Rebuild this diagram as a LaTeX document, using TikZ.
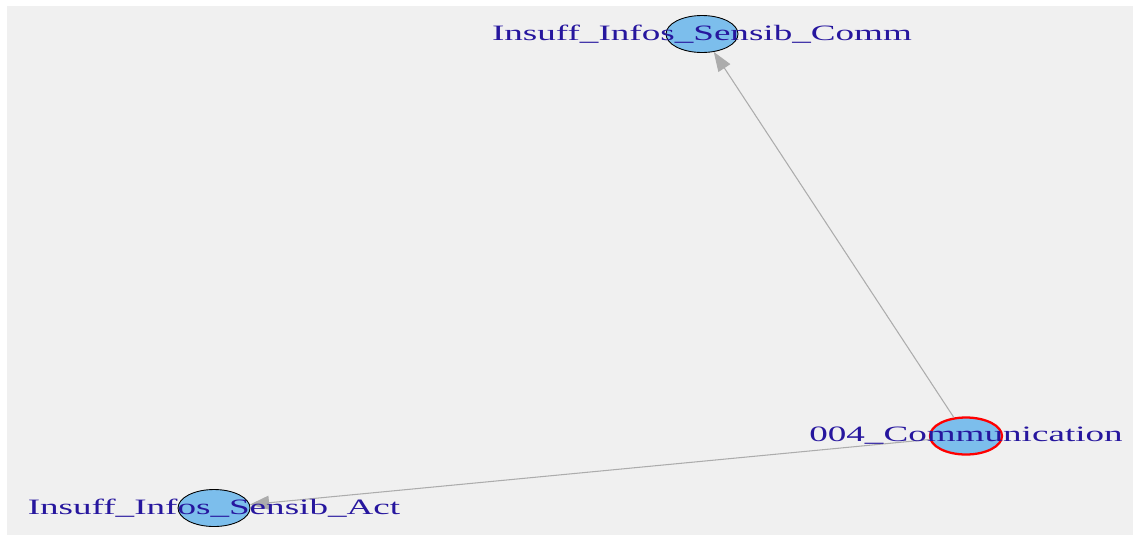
\documentclass[tikz,border=0pt]{standalone}
\usepackage{fontspec}
\usepackage{xcolor}
\usepackage{tikz}
\usetikzlibrary{shapes.geometric, arrows.meta, positioning}

\newfontfamily\netfont[FakeStretch=1.69]{Liberation Serif}
\definecolor{panelgray}{RGB}{240,240,240}
\definecolor{vertexblue}{RGB}{124,190,236}
\definecolor{labelblue}{RGB}{38,22,158}
\definecolor{edgegray}{RGB}{172,172,172}

\begin{document}
\begin{tikzpicture}[x=0.02cm, y=-0.02cm]
        \tikzstyle{vertex_style} = [ellipse, minimum width=1.44cm, minimum height=0.74cm, inner sep=0pt, draw=black, line width=0.5pt, fill=vertexblue]
        \tikzstyle{root_style} = [vertex_style, draw=red, line width=1.3pt]
        \tikzstyle{label_style} = [inner sep=0pt, text=labelblue, font=\netfont\fontsize{12.5}{14}\selectfont]
        \tikzstyle{edge_style} = [draw=edgegray, line width=0.6pt, -{Triangle[length=11pt, width=8pt]}, edgegray]

        % Panel
        \useasboundingbox (0,0) rectangle (1138,542);
        \fill[white] (0,0) rectangle (1138,542);
        \fill[panelgray] (7,6) rectangle (1133,535);

        % Vertices
        \node (comm) [vertex_style] at (702,34) {};
        \node (act) [vertex_style] at (214,508) {};
        \node (root) [root_style] at (966,436) {};

        % Edges out of the root
        \draw [edge_style] (root) -- (comm);
        \draw [edge_style] (root) -- (act);

        % Vertex labels
        \node (commtxt) [label_style] at (comm) {Insuff\_Infos\_Sensib\_Comm};
        \node (acttxt) [label_style] at (act) {Insuff\_Infos\_Sensib\_Act};
        \node (roottxt) [label_style] at (root) {004\_Communication};
    \end{tikzpicture}
\end{document}
